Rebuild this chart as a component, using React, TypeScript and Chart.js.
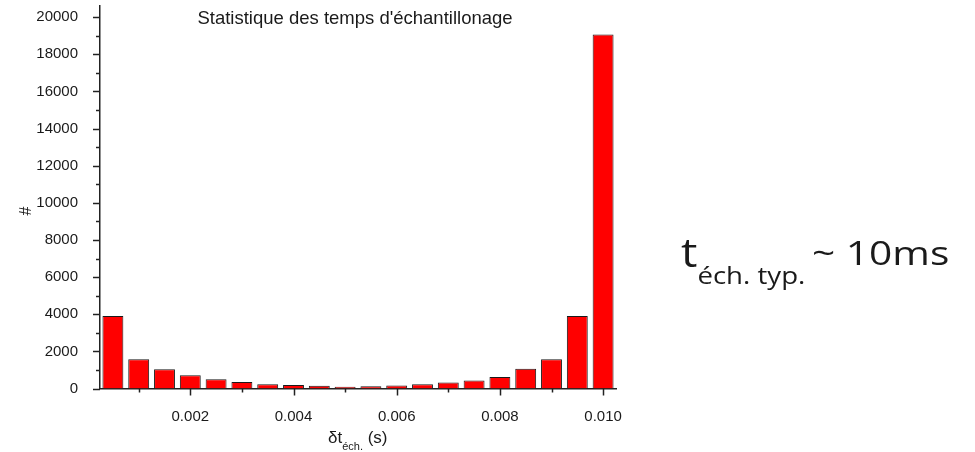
import React, { useEffect, useRef } from "react";
import { Chart, registerables } from "chart.js";

Chart.register(...registerables);

// Histogram of sampling intervals (bin width 0.5 ms)
const binCenters = [
  0.0005, 0.001, 0.0015, 0.002, 0.0025, 0.003, 0.0035, 0.004, 0.0045, 0.005,
  0.0055, 0.006, 0.0065, 0.007, 0.0075, 0.008, 0.0085, 0.009, 0.0095, 0.01,
];
const counts = [
  3900, 1570, 1040, 720, 495, 345, 225, 185, 150, 100,
  125, 160, 230, 325, 430, 615, 1065, 1580, 3900, 19060,
];

const xMajorTicks = [0.002, 0.004, 0.006, 0.008, 0.01];
const xMinorTicks = [0.001, 0.003, 0.005, 0.007, 0.009];
const yMajorTicks = [0, 2000, 4000, 6000, 8000, 10000, 12000, 14000, 16000, 18000, 20000];
const yMinorTicks = [1000, 3000, 5000, 7000, 9000, 11000, 13000, 15000, 17000, 19000];

const titleText = "Statistique des temps d'échantillonage";
const yTitle = "#";
const xTitleMain = "δt";
const xTitleSub = "éch.";
const xTitleUnit = " (s)";
const noteMain = "t";
const noteSub = "éch. typ.";
const noteRest = "~ 10ms";

const AXIS_COLOR = "#222";
const TEXT_COLOR = "#1a1a1a";
const CHART_FONT = "'Liberation Sans', Arial, sans-serif";
const NOTE_FONT = "'Open Sans', sans-serif";

const decorations = {
  id: "decorations",
  afterDraw(chart: any) {
    const ctx = chart.ctx as CanvasRenderingContext2D;
    const { chartArea } = chart;
    const xs = chart.scales.x;
    const ys = chart.scales.y;
    ctx.save();

    // tick marks, major and minor, pointing outwards
    ctx.strokeStyle = AXIS_COLOR;
    ctx.lineWidth = 1.5;
    const tick = (x1: number, y1: number, x2: number, y2: number) => {
      ctx.beginPath();
      ctx.moveTo(x1, y1);
      ctx.lineTo(x2, y2);
      ctx.stroke();
    };
    xMajorTicks.forEach((v) => {
      const px = Math.round(xs.getPixelForValue(v)) + 0.5;
      tick(px, chartArea.bottom, px, chartArea.bottom + 7);
    });
    xMinorTicks.forEach((v) => {
      const px = Math.round(xs.getPixelForValue(v)) + 0.5;
      tick(px, chartArea.bottom, px, chartArea.bottom + 4);
    });
    yMajorTicks.forEach((v) => {
      const py = Math.round(ys.getPixelForValue(v)) + 0.5;
      tick(chartArea.left, py, chartArea.left - 7, py);
    });
    yMinorTicks.forEach((v) => {
      const py = Math.round(ys.getPixelForValue(v)) + 0.5;
      tick(chartArea.left, py, chartArea.left - 4, py);
    });

    ctx.fillStyle = TEXT_COLOR;

    // plot title
    ctx.font = `18.5px ${CHART_FONT}`;
    ctx.textAlign = "center";
    ctx.textBaseline = "alphabetic";
    ctx.fillText(titleText, 355, 24);

    // y axis title
    ctx.save();
    ctx.translate(27, 211);
    ctx.rotate(-Math.PI / 2);
    ctx.textBaseline = "middle";
    ctx.font = `16px ${CHART_FONT}`;
    ctx.fillText(yTitle, 0, 0);
    ctx.restore();

    // x axis title with subscript
    ctx.textAlign = "left";
    ctx.textBaseline = "alphabetic";
    let x = 328;
    ctx.font = `17px ${CHART_FONT}`;
    ctx.fillText(xTitleMain, x, 443);
    x += ctx.measureText(xTitleMain).width;
    ctx.font = `11px ${CHART_FONT}`;
    ctx.fillText(xTitleSub, x, 450);
    x += ctx.measureText(xTitleSub).width;
    ctx.font = `17px ${CHART_FONT}`;
    ctx.fillText(xTitleUnit, x, 443);

    // side note, widened lettering
    ctx.save();
    ctx.translate(681, 0);
    ctx.scale(1.15, 1);
    ctx.font = `40px ${NOTE_FONT}`;
    let nx = 0;
    ctx.fillText(noteMain, nx, 267);
    nx += ctx.measureText(noteMain).width;
    ctx.font = `24px ${NOTE_FONT}`;
    ctx.fillText(noteSub, nx, 284);
    ctx.restore();
    ctx.save();
    ctx.translate(812, 0);
    ctx.scale(1.27, 1);
    ctx.font = `32px ${NOTE_FONT}`;
    ctx.fillText(noteRest, 0, 265);
    ctx.restore();

    ctx.restore();
  },
};

export default function App() {
  const canvasRef = useRef<HTMLCanvasElement | null>(null);

  useEffect(() => {
    if (!canvasRef.current) return;
    const chart = new Chart(canvasRef.current, {
      type: "bar",
      data: {
        datasets: [
          {
            data: binCenters.map((x, i) => ({ x, y: counts[i] })),
            backgroundColor: "#ff0000",
            borderColor: "#1a1a1a",
            borderWidth: 1,
            categoryPercentage: 1,
            barPercentage: 0.81,
          },
        ],
      },
      options: {
        animation: false,
        responsive: false,
        maintainAspectRatio: false,
        layout: { padding: { left: 0, top: 6, right: 359, bottom: 0 } },
        plugins: {
          legend: { display: false },
          title: { display: false },
          tooltip: { enabled: false },
        },
        scales: {
          x: {
            type: "linear",
            min: 0.00025,
            max: 0.01025,
            offset: false,
            grid: { display: false },
            border: { display: true, color: AXIS_COLOR, width: 1.5 },
            afterBuildTicks: (scale: any) => {
              scale.ticks = xMajorTicks.map((value) => ({ value }));
            },
            afterFit: (scale: any) => {
              scale.height = 63.5;
              scale.paddingLeft = 0;
              scale.paddingRight = 0;
            },
            ticks: {
              padding: 11,
              color: TEXT_COLOR,
              font: { family: CHART_FONT, size: 15 },
              maxRotation: 0,
              autoSkip: false,
              callback: (v: any) => Number(v).toFixed(3),
            },
          },
          y: {
            type: "linear",
            min: 0,
            max: 20600,
            grid: { display: false },
            border: { display: true, color: AXIS_COLOR, width: 1.5 },
            afterBuildTicks: (scale: any) => {
              scale.ticks = yMajorTicks.map((value) => ({ value }));
            },
            afterFit: (scale: any) => {
              scale.width = 100;
              scale.paddingTop = 0;
              scale.paddingBottom = 0;
            },
            ticks: {
              padding: 14,
              color: TEXT_COLOR,
              font: { family: CHART_FONT, size: 15 },
              autoSkip: false,
              callback: (v: any) => String(v),
            },
          },
        },
      },
      plugins: [decorations],
    });
    return () => chart.destroy();
  }, []);

  return (
    <div style={{ position: "fixed", left: 0, top: 0, width: 975, height: 452, background: "#fff" }}>
      <canvas ref={canvasRef} width={975} height={452} style={{ width: 975, height: 452, display: "block" }} />
    </div>
  );
}
